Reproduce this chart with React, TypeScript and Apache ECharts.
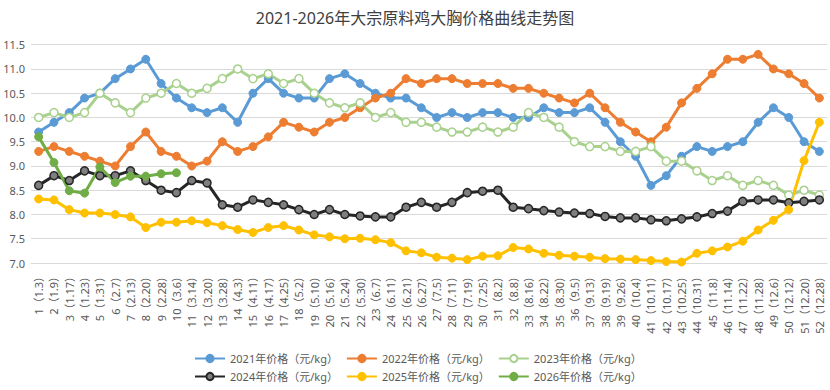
import React, { useEffect, useRef } from "react";
import * as echarts from "echarts";

const weeks = [
  "1（1.3）","2（1.9）","3（1.17）","4（1.23）","5（1.31）","6（2.7）","7（2.13）","8（2.20）","9（2.28）","10（3.6）",
  "11（3.14）","12（3.20）","13（3.28）","14（4.3）","15（4.11）","16（4.17）","17（4.25）","18（5.2）","19（5.10）","20（5.16）",
  "21（5.24）","22（5.30）","23（6.7）","24（6.11）","25（6.21）","26（6.27）","27（7.5）","28（7.11）","29（7.19）","30（7.25）",
  "31（8.2）","32（8.8）","33（8.16）","34（8.22）","35（8.30）","36（9.5）","37（9.13）","38（9.19）","39（9.26）","40（10.4）",
  "41（10.11）","42（10.17）","43（10.25）","44（10.31）","45（11.8）","46（11.14）","47（11.22）","48（11.28）","49（12.6）","50（12.12）",
  "51（12.20）","52（12.28）"
];

const y2021 = [9.7,9.9,10.1,10.4,10.5,10.8,11.0,11.2,10.7,10.4,10.2,10.1,10.2,9.9,10.5,10.8,10.5,10.4,10.4,10.8,10.9,10.7,10.5,10.4,10.4,10.2,10.0,10.1,10.0,10.1,10.1,10.0,10.0,10.2,10.1,10.1,10.2,9.9,9.5,9.2,8.6,8.8,9.2,9.4,9.3,9.4,9.5,9.9,10.2,10.0,9.5,9.3];
const y2022 = [9.3,9.4,9.3,9.2,9.1,9.0,9.4,9.7,9.3,9.2,9.0,9.1,9.5,9.3,9.4,9.6,9.9,9.8,9.7,9.9,10.0,10.2,10.4,10.5,10.8,10.7,10.8,10.8,10.7,10.7,10.7,10.6,10.6,10.5,10.4,10.3,10.5,10.2,9.9,9.7,9.5,9.8,10.3,10.6,10.9,11.2,11.2,11.3,11.0,10.9,10.7,10.4];
const y2023 = [10.0,10.1,10.0,10.1,10.5,10.3,10.1,10.4,10.5,10.7,10.5,10.6,10.8,11.0,10.8,10.9,10.7,10.8,10.5,10.3,10.2,10.3,10.0,10.1,9.9,9.9,9.8,9.7,9.7,9.8,9.7,9.8,10.1,10.0,9.8,9.5,9.4,9.4,9.3,9.3,9.4,9.1,9.1,8.9,8.7,8.8,8.6,8.7,8.6,8.4,8.5,8.4];
const y2024 = [8.6,8.8,8.7,8.9,8.8,8.8,8.9,8.7,8.5,8.45,8.7,8.65,8.2,8.15,8.3,8.25,8.2,8.1,8.0,8.1,8.0,7.97,7.95,7.95,8.15,8.25,8.15,8.25,8.45,8.48,8.5,8.15,8.12,8.08,8.05,8.03,8.02,7.96,7.93,7.93,7.89,7.87,7.91,7.95,8.02,8.07,8.27,8.3,8.3,8.24,8.27,8.3];
const y2025 = [8.32,8.3,8.1,8.03,8.03,8.0,7.95,7.73,7.84,7.84,7.87,7.83,7.77,7.69,7.63,7.73,7.77,7.68,7.58,7.54,7.5,7.51,7.48,7.42,7.25,7.21,7.12,7.1,7.07,7.14,7.15,7.32,7.29,7.2,7.16,7.14,7.12,7.09,7.08,7.07,7.05,7.03,7.02,7.2,7.25,7.33,7.45,7.68,7.88,8.1,9.11,9.9];
const y2026 = [9.6,9.07,8.49,8.44,8.98,8.66,8.79,8.79,8.84,8.86];

const names = [
  "2021年价格（元/kg）","2022年价格（元/kg）","2023年价格（元/kg）",
  "2024年价格（元/kg）","2025年价格（元/kg）","2026年价格（元/kg）"
];

const FONT = "'Noto Sans', 'Noto Sans CJK SC', sans-serif";

export default function App() {
  const ref = useRef<HTMLDivElement>(null);
  useEffect(() => {
    if (!ref.current) return;
    const chart = echarts.init(ref.current, null, { renderer: "svg" });
    const mk = (name: string, data: number[], color: string, opts: any = {}) => ({
      name,
      type: "line",
      data,
      symbol: "circle",
      symbolSize: 8,
      lineStyle: { width: 3, color: opts.line || color },
      itemStyle: {
        color: opts.fill || color,
        borderColor: opts.border || color,
        borderWidth: opts.bw ?? 1,
      },
      emphasis: { disabled: true },
    });
    const legendCommon = {
      left: 189,
      itemWidth: 30,
      itemHeight: 9,
      itemGap: 8,
      textStyle: { color: "#595959", fontSize: 11, fontFamily: FONT },
    };
    chart.setOption({
      animation: false,
      title: {
        text: "2021-2026年大宗原料鸡大胸价格曲线走势图",
        left: "center",
        top: 5,
        textStyle: { color: "#404040", fontSize: 16, fontWeight: "normal", fontFamily: FONT },
      },
      legend: [
        { ...legendCommon, top: 348, data: names.slice(0, 3) },
        { ...legendCommon, top: 366, data: names.slice(3, 6) },
      ],
      grid: { left: 31, right: 3, top: 44.7, bottom: 127, containLabel: false },
      xAxis: {
        type: "category",
        data: weeks,
        boundaryGap: true,
        axisLine: { show: true, lineStyle: { color: "#D9D9D9" } },
        axisTick: { show: false },
        axisLabel: {
          interval: 0,
          rotate: 90,
          color: "#595959",
          fontSize: 11,
          margin: 8,
          fontFamily: FONT,
        },
      },
      yAxis: {
        type: "value",
        min: 7,
        max: 11.5,
        interval: 0.5,
        axisLine: { show: false },
        axisTick: { show: false },
        axisLabel: {
          color: "#595959",
          fontSize: 11,
          margin: 6,
          fontFamily: FONT,
          formatter: (v: number) => v.toFixed(1),
        },
        splitLine: { lineStyle: { color: "#D9D9D9" } },
      },
      series: [
        mk(names[0], y2021, "#5B9BD5"),
        mk(names[1], y2022, "#ED7D31"),
        mk(names[2], y2023, "#A9D18E", { fill: "#ffffff", border: "#A9D18E", bw: 1.5 }),
        mk(names[3], y2024, "#262626", { fill: "#7F7F7F", border: "#262626", bw: 1.5, line: "#262626" }),
        mk(names[4], y2025, "#FFC000"),
        mk(names[5], y2026, "#70AD47"),
      ],
    });
    return () => chart.dispose();
  }, []);
  return <div ref={ref} style={{ width: 830, height: 390, position: "absolute", left: 0, top: 0 }} />;
}
